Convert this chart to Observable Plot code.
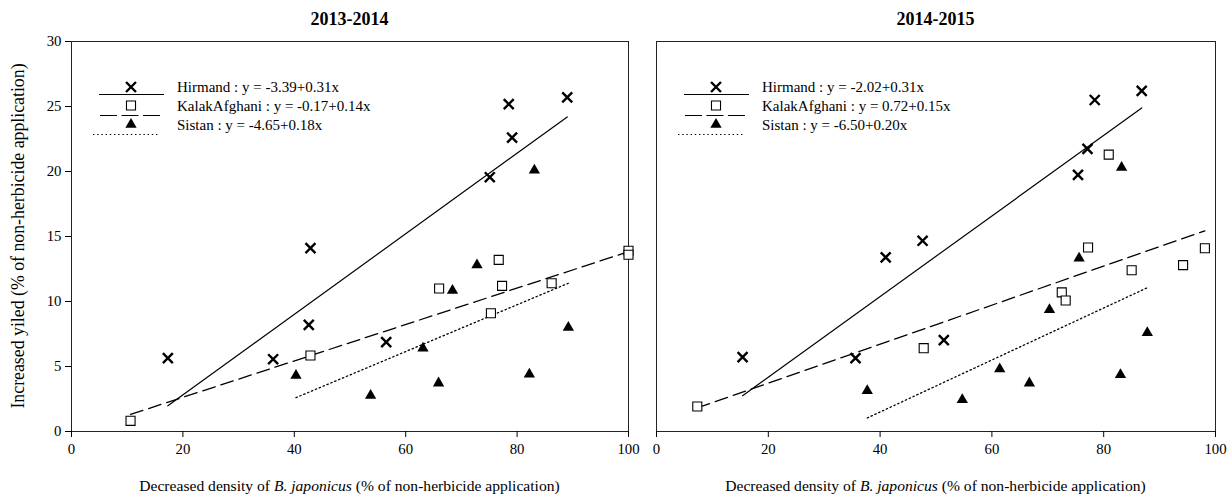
<!DOCTYPE html>
<html><head><meta charset="utf-8">
<script src="https://cdn.jsdelivr.net/npm/d3@7"></script>
<script src="https://cdn.jsdelivr.net/npm/@observablehq/plot@0.6"></script>
<style>
body{margin:0;background:#fff;}
#wrap{display:flex;width:1230px;height:495px;overflow:hidden;}
svg text{font-family:"Liberation Serif","Times New Roman",serif;}
</style></head><body><div id="wrap"></div>
<script>
// ---------- data ----------
const xTicks = [0, 20, 40, 60, 80, 100];
const yTicks = [0, 5, 10, 15, 20, 25, 30];
const seriesNames = ["Hirmand", "KalakAfghani", "Sistan"];
const panelTitles = ["2013-2014", "2014-2015"];

// 2013-2014
const hirmandX1 = [17.3, 36.2, 42.9, 42.6, 56.5, 75.1, 78.5, 79.1, 89.0];
const hirmandY1 = [5.64, 5.56, 14.1, 8.2, 6.87, 19.56, 25.18, 22.6, 25.7];
const kalakX1 = [10.6, 42.9, 66.0, 76.7, 77.3, 75.3, 86.2, 100.0, 100.0];
const kalakY1 = [0.82, 5.85, 11.0, 13.2, 11.2, 9.1, 11.4, 13.9, 13.6];
const sistanX1 = [40.3, 53.7, 63.1, 65.9, 68.4, 72.8, 82.2, 83.1, 89.2];
const sistanY1 = [4.3, 2.77, 6.41, 3.72, 10.85, 12.8, 4.41, 20.1, 8.0];
const intercepts1 = [-3.39, -0.17, -4.65];
const slopes1 = [0.31, 0.14, 0.18];

// 2014-2015
const hirmandX2 = [15.4, 35.6, 41.0, 47.6, 51.4, 75.4, 77.1, 78.4, 86.8];
const hirmandY2 = [5.72, 5.64, 13.4, 14.67, 7.03, 19.74, 21.74, 25.5, 26.2];
const kalakX2 = [7.3, 47.8, 72.5, 73.2, 77.2, 80.9, 85.0, 94.2, 98.1];
const kalakY2 = [1.92, 6.41, 10.7, 10.08, 14.15, 21.3, 12.4, 12.8, 14.1];
const sistanX2 = [37.7, 54.7, 61.4, 66.7, 70.3, 75.6, 83.0, 83.2, 87.8];
const sistanY2 = [3.13, 2.44, 4.8, 3.72, 9.36, 13.33, 4.36, 20.3, 7.6];
const intercepts2 = [-2.02, 0.72, -6.50];
const slopes2 = [0.31, 0.15, 0.20];

// ---------- helpers ----------
const FONT = '"Liberation Serif", "Times New Roman", serif';
const pts = (xs, ys) => xs.map((x, i) => ({x, y: ys[i]}));
const reg = (xs, a, b) => d3.extent(xs).map(x => ({x, y: a + b * x}));
const fmt = v => v.toFixed(2);

const symStyles = [
  {symbol: "times", r: 4.6, stroke: "black", strokeWidth: 2.4, fill: "none"},
  {symbol: "square", r: 5.1, stroke: "black", strokeWidth: 1.1, fill: "white"},
  {symbol: "triangle", r: 4.2, stroke: "none", fill: "black"}
];
const lineStyles = [
  {stroke: "black", strokeWidth: 1.2},
  {stroke: "black", strokeWidth: 1.3, strokeDasharray: "13,6"},
  {stroke: "black", strokeWidth: 1.3, strokeDasharray: "1.4,2.8"}
];
const d3Sym = {times: d3.symbolTimes, square: d3.symbolSquare, triangle: d3.symbolTriangle};

function panel(opts) {
  const {width, mL, mR, title, series, intercepts, slopes, showY} = opts;
  const marks = [Plot.frame({stroke: "#222", strokeWidth: 1})];
  series.forEach((s, i) => {
    marks.push(Plot.line(reg(s.xs, intercepts[i], slopes[i]), {x: "x", y: "y", ...lineStyles[i]}));
  });
  series.forEach((s, i) => {
    marks.push(Plot.dot(pts(s.xs, s.ys), {x: "x", y: "y", ...symStyles[i]}));
  });
  marks.push(Plot.axisX({ticks: xTicks, tickSize: 6, tickPadding: 6, label: null}));
  if (showY) marks.push(Plot.axisY({ticks: yTicks, tickSize: 6, tickPadding: 4, label: null}));
  const svg = Plot.plot({
    width, height: 495,
    marginTop: 41, marginBottom: 64, marginLeft: mL, marginRight: mR,
    x: {domain: [0, 100]},
    y: {domain: [0, 30], axis: showY ? undefined : null},
    style: {fontFamily: FONT, fontSize: "14.8px", color: "black", background: "white", overflow: "visible"},
    marks
  });
  const g = d3.select(svg).append("g").attr("text-anchor", "start");
  const fl = mL, ft = 41, fw = width - mL - mR, fb = 495 - 64;
  // title
  g.append("text").attr("x", fl + fw / 2).attr("y", 25).attr("text-anchor", "middle")
    .attr("font-weight", "bold").attr("font-size", 18).text(title);
  // x label
  const xl = g.append("text").attr("x", fl + fw / 2).attr("y", fb + 60).attr("text-anchor", "middle")
    .attr("font-size", 15.6);
  xl.append("tspan").text("Decreased density of ");
  xl.append("tspan").attr("font-style", "italic").text("B. japonicus");
  xl.append("tspan").text(" (% of non-herbicide application)");
  if (showY) {
    g.append("text").attr("transform", `translate(24,236) rotate(-90)`).attr("text-anchor", "middle")
      .attr("font-size", 17.8).text("Increased yiled (% of non-herbicide application)");
  }
  // legend
  const symY = [46, 64.5, 83.5], lineY = [53.5, 74.5, 93.5];
  const lineX = [[28, 93], [29, 89], [22, 89]];
  const legDash = [null, "17,4.5", "1.4,2.8"];
  series.forEach((s, i) => {
    const st = symStyles[i];
    g.append("path")
      .attr("d", d3.symbol(d3Sym[st.symbol], Math.PI * st.r * st.r)())
      .attr("transform", `translate(${fl + 60},${ft + symY[i]})`)
      .attr("fill", st.fill).attr("stroke", st.stroke).attr("stroke-width", st.strokeWidth);
    const ln = g.append("line").attr("x1", fl + lineX[i][0]).attr("x2", fl + lineX[i][1])
      .attr("y1", ft + lineY[i]).attr("y2", ft + lineY[i]).attr("stroke", "black").attr("stroke-width", 1.2);
    if (legDash[i]) ln.attr("stroke-dasharray", legDash[i]);
    g.append("text").attr("x", fl + 106).attr("y", ft + symY[i]).attr("dy", "0.35em")
      .attr("text-anchor", "start").attr("font-size", 15)
      .text(`${seriesNames[i]} : y = ${fmt(intercepts[i])}+${fmt(slopes[i])}x`);
  });
  return svg;
}

const wrap = document.getElementById("wrap");
wrap.appendChild(panel({
  width: 642, mL: 71, mR: 14, title: panelTitles[0], showY: true,
  series: [{xs: hirmandX1, ys: hirmandY1}, {xs: kalakX1, ys: kalakY1}, {xs: sistanX1, ys: sistanY1}],
  intercepts: intercepts1, slopes: slopes1
}));
wrap.appendChild(panel({
  width: 588, mL: 14, mR: 15, title: panelTitles[1], showY: false,
  series: [{xs: hirmandX2, ys: hirmandY2}, {xs: kalakX2, ys: kalakY2}, {xs: sistanX2, ys: sistanY2}],
  intercepts: intercepts2, slopes: slopes2
}));
</script></body></html>
